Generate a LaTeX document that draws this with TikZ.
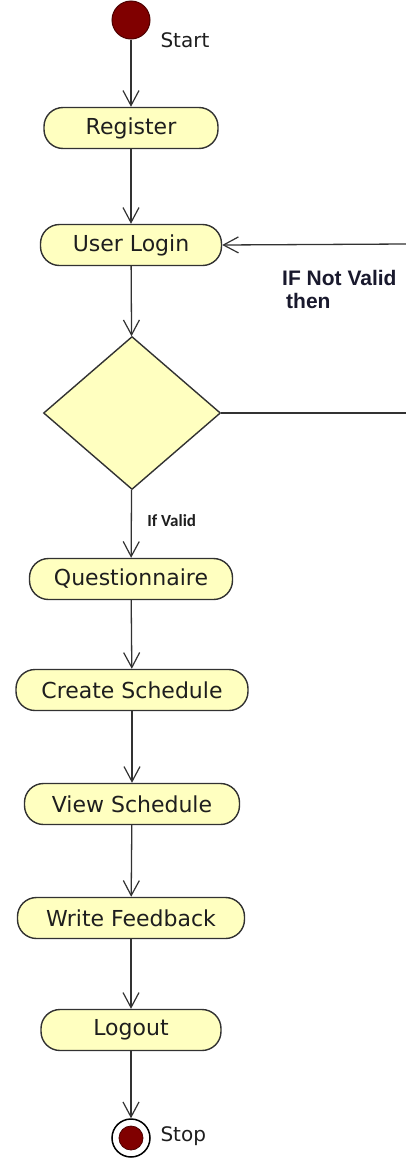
\documentclass[tikz,border=0pt]{standalone}
\usepackage{fontspec}
\setmainfont{DejaVu Sans}
\newfontfamily\arialfont{Liberation Sans}
\newfontfamily\carlfont{Carlito}
\usetikzlibrary{arrows.meta,shapes.geometric}
\definecolor{pillfill}{RGB}{255,255,192}
\definecolor{edgegray}{RGB}{50,50,50}
\definecolor{dred}{RGB}{128,0,0}
\definecolor{txtgray}{RGB}{30,30,30}
\definecolor{navytxt}{RGB}{25,25,45}
\begin{document}
\begin{tikzpicture}[x=1pt,y=1pt,
  pill/.style={draw=edgegray, line width=1.4pt, fill=pillfill, rounded corners=19pt,
    minimum height=41pt, inner sep=0pt, font=\fontsize{22}{22}\selectfont, text=txtgray},
  flow/.style={draw=edgegray, line width=1.3pt,
    -{Straight Barb[length=15pt,width=16pt,line width=1.2pt]}},
  plain/.style={draw=edgegray, line width=1.3pt},
  lbl/.style={font=\fontsize{20}{20}\selectfont, text=txtgray, anchor=west},
]
\useasboundingbox (0,0) rectangle (406,-1165);
\fill[white] (0,0) rectangle (406,-1165);

% start
\node[circle, fill=dred, draw=dred!60!black, line width=1pt, minimum size=38pt, inner sep=0pt] (start) at (131,-20) {};
\node[lbl] (startlbl) at (157,-40) {Start};

% activities
\node[pill, minimum width=174pt] (register) at (131,-128) {Register};
\node[pill, minimum width=181pt] (login) at (131,-245) {User Login};
\node[diamond, draw=edgegray, line width=1.4pt, fill=pillfill, inner sep=0pt,
      minimum width=177pt, minimum height=153pt] (dec) at (132,-413) {};
\node[pill, minimum width=203pt] (quest) at (131,-579) {Questionnaire};
\node[pill, minimum width=232pt] (create) at (132,-690) {Create Schedule};
\node[pill, minimum width=215pt] (view) at (132,-804) {View Schedule};
\node[pill, minimum width=227pt] (write) at (131,-918) {Write Feedback};
\node[pill, minimum width=180pt] (logout) at (131,-1030) {Logout};

% stop
\node[circle, fill=white, draw=black, line width=1.5pt, minimum size=38pt, inner sep=0pt] (stop) at (131,-1138) {};
\node[circle, fill=dred, draw=dred!60!black, line width=0.8pt, minimum size=24pt, inner sep=0pt] (stopin) at (stop.center) {};
\node[lbl] (stoplbl) at (157,-1136) {Stop};

% labels
\node[anchor=north west, align=left, font=\arialfont\bfseries\fontsize{21}{23}\selectfont, text=navytxt, inner sep=0pt]
  (notvalid) at (282,-270) {IF Not Valid\\\hspace*{4pt}then};

% connectors
\draw[flow] (start) -- (register);
\draw[flow] (register) -- (login);
\draw[flow] (login) -- (dec);
\draw[flow] (dec) -- node[pos=0.45, right, xshift=12pt, font=\carlfont\bfseries\fontsize{17}{17}\selectfont, text=txtgray] {If Valid} (quest);
\draw[flow] (quest) -- (create);
\draw[flow] (create) -- (view);
\draw[flow] (view) -- (write);
\draw[flow] (write) -- (logout);
\draw[flow] (logout) -- (stop);

\coordinate (rb) at (406,-413);
\coordinate (rt) at (406,-244);
\draw[plain] (dec.east) -- (rb);
\draw[flow] (rt) -- (login.east);
\end{tikzpicture}
\end{document}
